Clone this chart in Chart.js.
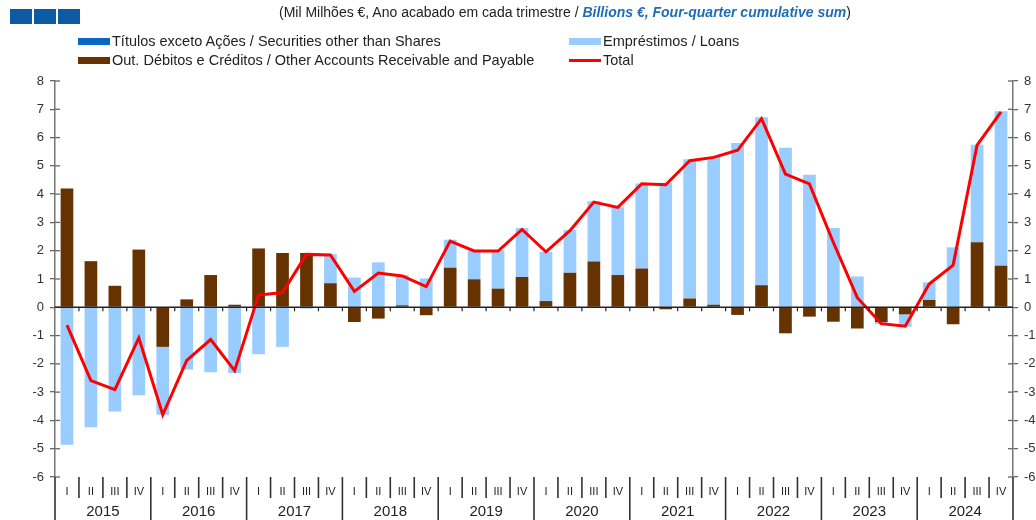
<!DOCTYPE html>
<html>
<head>
<meta charset="utf-8">
<script src="https://cdn.jsdelivr.net/npm/chart.js@4.4.1/dist/chart.umd.min.js"></script>
<style>
  body { margin: 0; background: #fff; font-family: "Liberation Sans", Arial, sans-serif; }
  #wrap { position: relative; width: 1036px; height: 520px; overflow: hidden; }
  #chart { position: absolute; left: 0; top: 0; }
  #logo { position: absolute; left: 10px; top: 9px; display: flex; gap: 2px; }
  #logo span { display: block; width: 22px; height: 15px; background: #0b5aa2; }
  #title { position: absolute; left: 279px; top: 4px; font-size: 14px; color: #222; white-space: nowrap; }
  #title i { color: #1f6db5; font-weight: bold; }
  .leg { position: absolute; font-size: 14.5px; color: #222; white-space: nowrap; display: flex; align-items: center; }
  .leg .sw { display: inline-block; width: 32px; height: 7px; margin-right: 2px; }
  .leg .ln { display: inline-block; width: 32px; height: 3px; margin-right: 2px; }
</style>
</head>
<body>
<div id="wrap">
  <canvas id="chart" width="1036" height="520"></canvas>
  <div id="logo"><span></span><span></span><span></span></div>
  <div id="title">(Mil Milhões €, Ano acabado em cada trimestre / <i>Billions €, Four-quarter cumulative sum</i>)</div>
  <div id="legend"></div>
</div>
<script>
// categories
const years = ['2015', '2016', '2017', '2018', '2019', '2020', '2021', '2022', '2023', '2024'];
const quarterNames = ['I', 'II', 'III', 'IV'];

// series values (billions EUR), one per quarter 2015Q1..2024Q4
const securities = [
  0, 0, 0, 0,  0, 0, 0, 0,  0, 0, 0, 0,  0, 0, 0, 0,  0, 0, 0, 0,
  0, 0, 0, 0,  0, 0, 0, 0,  0, 0, 0, 0,  0, 0, 0, 0,  0, 0, 0, 0
];
const otherAccounts = [
  4.20, 1.63, 0.76, 2.04,
  -1.40, 0.28, 1.14, 0.09,
  2.08, 1.92, 1.92, 0.85,
  -0.52, -0.40, 0.07, -0.28,
  1.40, 0.99, 0.66, 1.07,
  0.22, 1.22, 1.62, 1.14,
  1.37, -0.07, 0.31, 0.09,
  -0.27, 0.78, -0.92, -0.33,
  -0.51, -0.75, -0.52, -0.25,
  0.26, -0.60, 2.30, 1.47
];
const loans = [
  -4.86, -4.24, -3.68, -3.11,
  -2.40, -2.20, -2.30, -2.32,
  -1.66, -1.40, -0.05, 1.03,
  1.05, 1.59, 1.07, 1.02,
  0.99, 1.01, 1.36, 1.73,
  1.74, 1.51, 2.13, 2.40,
  3.01, 4.40, 4.92, 5.22,
  5.81, 5.94, 5.64, 4.69,
  2.80, 1.09, -0.08, -0.44,
  0.62, 2.12, 3.45, 5.46
];
const total = [
  -0.63, -2.59, -2.91, -1.08,
  -3.80, -1.88, -1.14, -2.24,
  0.43, 0.52, 1.87, 1.85,
  0.56, 1.21, 1.11, 0.73,
  2.34, 1.99, 1.99, 2.75,
  1.96, 2.71, 3.72, 3.53,
  4.37, 4.33, 5.18, 5.30,
  5.55, 6.67, 4.71, 4.36,
  2.29, 0.34, -0.58, -0.67,
  0.82, 1.49, 5.73, 6.91
];

const labels = years.flatMap((yr) => quarterNames.map((q) => q + ' ' + yr));

const colors = {
  securities: '#0a67c2',
  loans: '#99ccff',
  other: '#663300',
  total: '#ff0000'
};

// axis lines, zero line, quarter / year separators
const axisDecor = {
  id: 'axisDecor',
  afterDraw(chart) {
    const { ctx, chartArea: a, scales } = chart;
    const x = scales.x, y = scales.y;
    const half = (x.getPixelForValue(1) - x.getPixelForValue(0)) / 2;
    const edge = (i) => x.getPixelForValue(i) - half;
    const seg = (x1, y1, x2, y2) => { ctx.beginPath(); ctx.moveTo(x1, y1); ctx.lineTo(x2, y2); ctx.stroke(); };
    ctx.save();

    // inner half of the y ticks
    ctx.strokeStyle = '#666';
    ctx.lineWidth = 1.3;
    for (let v = -6; v <= 8; v++) {
      const py = y.getPixelForValue(v);
      seg(a.left, py, a.left + 5, py);
      seg(a.right - 5, py, a.right, py);
    }

    // zero line with small ticks
    const y0 = y.getPixelForValue(0);
    ctx.strokeStyle = '#222';
    ctx.lineWidth = 1.5;
    seg(a.left, y0, a.right, y0);
    ctx.lineWidth = 1.2;
    for (let i = 1; i < labels.length; i++) {
      seg(edge(i), y0, edge(i), y0 + 4);
    }

    // quarter and year separators
    ctx.strokeStyle = '#333';
    ctx.lineWidth = 1.6;
    for (let i = 0; i <= labels.length; i++) {
      const px = edge(i);
      const isYear = i % quarterNames.length === 0;
      seg(px, a.bottom, px, isYear ? 520 : 498);
    }

    // year labels
    ctx.fillStyle = '#222';
    ctx.font = '15px "Liberation Sans", Arial, sans-serif';
    ctx.textAlign = 'center';
    ctx.textBaseline = 'middle';
    years.forEach((yr, k) => {
      const cx = (edge(k * 4) + edge(k * 4 + 4)) / 2;
      ctx.fillText(yr, cx, 512);
    });
    ctx.restore();
  }
};

const tickFont = { family: '"Liberation Sans", Arial, sans-serif', size: 13 };

const chart = new Chart(document.getElementById('chart').getContext('2d'), {
  type: 'bar',
  data: {
    labels: labels,
    datasets: [
      {
        type: 'line',
        label: 'Total',
        data: total,
        borderColor: colors.total,
        backgroundColor: colors.total,
        borderWidth: 3,
        pointRadius: 0,
        tension: 0,
        order: 0
      },
      {
        label: 'Out. Débitos e Créditos / Other Accounts Receivable and Payable',
        data: otherAccounts,
        backgroundColor: colors.other,
        stack: 'bars',
        order: 1
      },
      {
        label: 'Títulos exceto Ações / Securities other than Shares',
        data: securities,
        backgroundColor: colors.securities,
        stack: 'bars',
        order: 1
      },
      {
        label: 'Empréstimos / Loans',
        data: loans,
        backgroundColor: colors.loans,
        stack: 'bars',
        order: 1
      }
    ]
  },
  options: {
    responsive: false,
    animation: false,
    layout: {
      padding: { top: 81, left: 0, right: 0, bottom: 0 }
    },
    datasets: {
      bar: { categoryPercentage: 1, barPercentage: 0.53 }
    },
    plugins: {
      legend: { display: false },
      tooltip: { enabled: false }
    },
    scales: {
      x: {
        grid: { display: false },
        border: { display: false },
        ticks: {
          autoSkip: false,
          maxRotation: 0,
          padding: 0,
          color: '#222',
          font: { family: tickFont.family, size: 11 },
          callback: (v, i) => quarterNames[i % quarterNames.length]
        },
        afterFit: (scale) => { scale.height = 43; }
      },
      y: {
        position: 'left',
        min: -6,
        max: 8,
        ticks: { stepSize: 1, padding: 6, color: '#333', font: tickFont },
        grid: { drawOnChartArea: false, tickLength: 5, color: '#666', lineWidth: 1.3 },
        border: { display: true, color: '#777', width: 1.5 },
        afterFit: (scale) => { scale.width = 55; }
      },
      y2: {
        position: 'right',
        min: -6,
        max: 8,
        ticks: { stepSize: 1, padding: 6, color: '#333', font: tickFont },
        grid: { drawOnChartArea: false, tickLength: 5, color: '#666', lineWidth: 1.3 },
        border: { display: true, color: '#777', width: 1.5 },
        afterFit: (scale) => { scale.width = 23; }
      }
    }
  },
  plugins: [axisDecor]
});

// legend in two columns, built from the datasets
function createLegend() {
  const box = document.getElementById('legend');
  const byLabel = {};
  chart.data.datasets.forEach((ds) => { byLabel[ds.label] = ds; });
  const places = [
    ['Títulos exceto Ações / Securities other than Shares', 78, 33],
    ['Empréstimos / Loans', 569, 33],
    ['Out. Débitos e Créditos / Other Accounts Receivable and Payable', 78, 52],
    ['Total', 569, 52]
  ];
  places.forEach(([name, left, top]) => {
    const ds = byLabel[name];
    const item = document.createElement('div');
    item.className = 'leg';
    item.style.left = left + 'px';
    item.style.top = top + 'px';
    const sw = document.createElement('span');
    sw.className = ds.type === 'line' ? 'ln' : 'sw';
    sw.style.background = ds.type === 'line' ? ds.borderColor : ds.backgroundColor;
    item.appendChild(sw);
    item.appendChild(document.createTextNode(name));
    box.appendChild(item);
  });
}

createLegend();
</script>
</body>
</html>
